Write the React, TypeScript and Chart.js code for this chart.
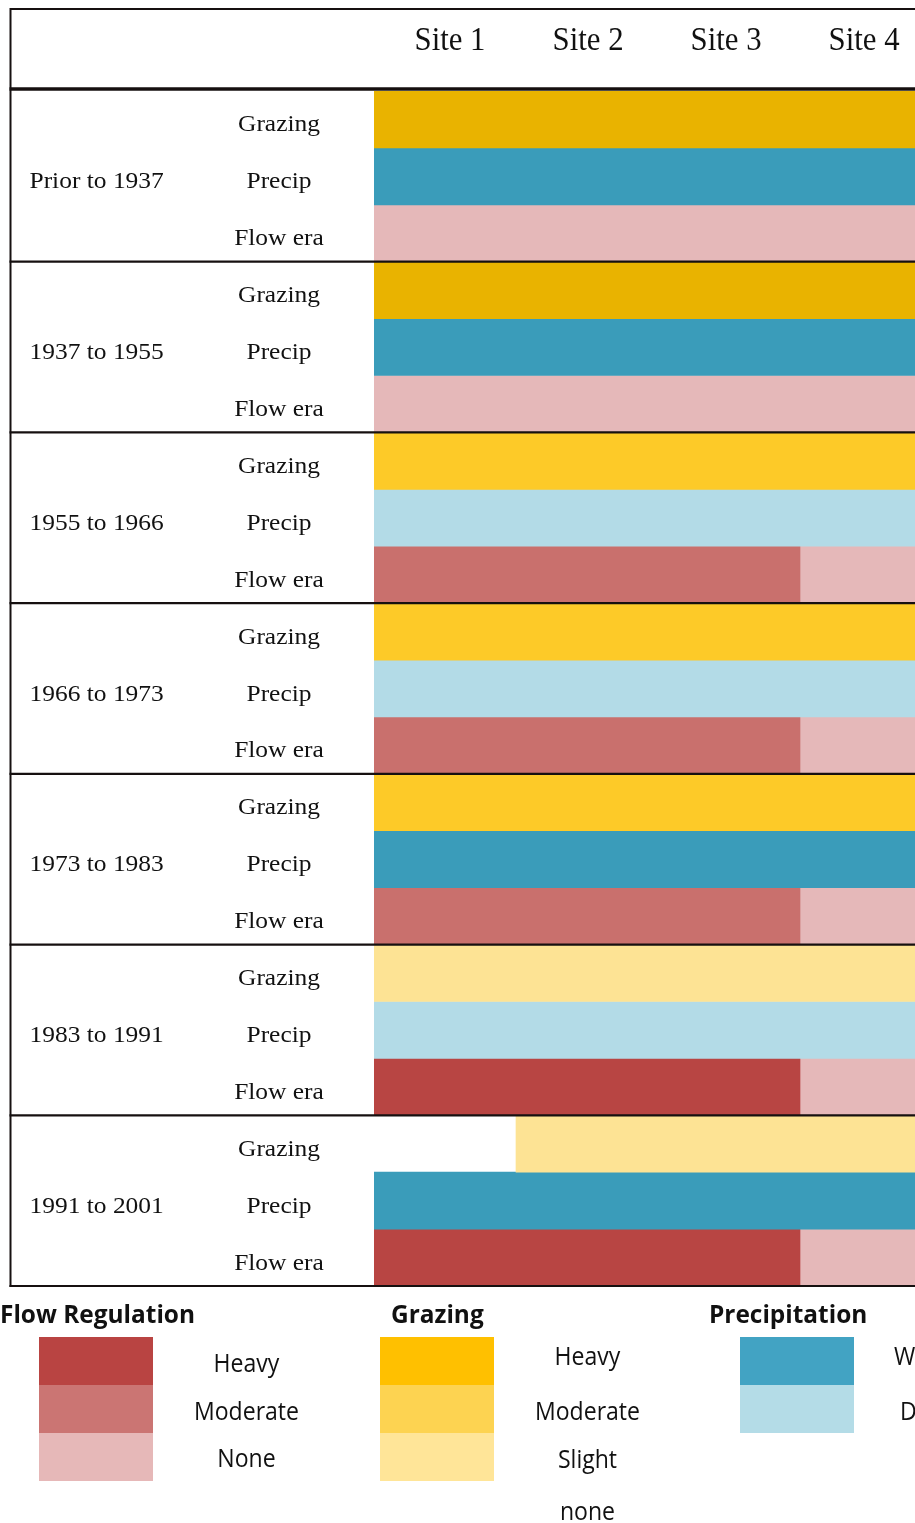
import React, { useEffect, useRef } from 'react';
import { Chart, registerables } from 'chart.js';

Chart.register(...registerables);

// ---------- data ----------
const SITES = ['Site 1', 'Site 2', 'Site 3', 'Site 4'];
const PERIODS = [
  'Prior to 1937',
  '1937 to 1955',
  '1955 to 1966',
  '1966 to 1973',
  '1973 to 1983',
  '1983 to 1991',
  '1991 to 2001',
];
const FACTORS = ['Grazing', 'Precip', 'Flow era'];

// level per period per site
const GRAZING = [
  ['Heavy', 'Heavy', 'Heavy', 'Heavy'],
  ['Heavy', 'Heavy', 'Heavy', 'Heavy'],
  ['Moderate', 'Moderate', 'Moderate', 'Moderate'],
  ['Moderate', 'Moderate', 'Moderate', 'Moderate'],
  ['Moderate', 'Moderate', 'Moderate', 'Moderate'],
  ['Slight', 'Slight', 'Slight', 'Slight'],
  ['none', 'Slight', 'Slight', 'Slight'],
];
const PRECIP = [
  ['Wet', 'Wet', 'Wet', 'Wet'],
  ['Wet', 'Wet', 'Wet', 'Wet'],
  ['Dry', 'Dry', 'Dry', 'Dry'],
  ['Dry', 'Dry', 'Dry', 'Dry'],
  ['Wet', 'Wet', 'Wet', 'Wet'],
  ['Dry', 'Dry', 'Dry', 'Dry'],
  ['Wet', 'Wet', 'Wet', 'Wet'],
];
const FLOW = [
  ['None', 'None', 'None', 'None'],
  ['None', 'None', 'None', 'None'],
  ['Moderate', 'Moderate', 'Moderate', 'None'],
  ['Moderate', 'Moderate', 'Moderate', 'None'],
  ['Moderate', 'Moderate', 'Moderate', 'None'],
  ['Heavy', 'Heavy', 'Heavy', 'None'],
  ['Heavy', 'Heavy', 'Heavy', 'None'],
];

const GRAZING_LEVELS = ['Heavy', 'Moderate', 'Slight'];
const PRECIP_LEVELS = ['Wet', 'Dry'];
const FLOW_LEVELS = ['Heavy', 'Moderate', 'None'];

const FLOW_LEGEND = ['Heavy', 'Moderate', 'None'];
const GRAZING_LEGEND = ['Heavy', 'Moderate', 'Slight', 'none'];
const PRECIP_LEGEND = ['Wet', 'Dry'];

// ---------- colours ----------
const BAR_COLORS: Record<string, Record<string, string>> = {
  Grazing: { Heavy: '#E9B300', Moderate: '#FDCA28', Slight: '#FDE394' },
  Precip: { Wet: '#3A9CBA', Dry: '#B3DBE7' },
  'Flow era': { Heavy: '#B84543', Moderate: '#C9706D', None: '#E5B8B9' },
};
const LEGEND_COLORS = {
  flow: ['#B94442', '#CB7573', '#E6B8B8'],
  grazing: ['#FFC000', '#FDD351', '#FFE598'],
  precip: ['#42A3C3', '#B4DCE7'],
};

const ROW_FACTORS = PERIODS.flatMap(() => FACTORS);
const ROW_LABELS = PERIODS.flatMap((p) => FACTORS.map((f) => `${p}|${f}`));
const TABLES: Record<string, string[][]> = { Grazing: GRAZING, Precip: PRECIP, 'Flow era': FLOW };
const LEVELS: Record<string, string[]> = { Grazing: GRAZING_LEVELS, Precip: PRECIP_LEVELS, 'Flow era': FLOW_LEVELS };

function runOf(levels: string[], level: string): [number, number] | null {
  let a = -1;
  let b = -1;
  levels.forEach((l, i) => {
    if (l === level) {
      if (a < 0) a = i;
      b = i;
    }
  });
  return a < 0 ? null : [a, b + 1];
}

function buildDatasets() {
  const ds: any[] = [];
  FACTORS.forEach((f) => {
    LEVELS[f].forEach((lvl) => {
      const data = ROW_LABELS.map((_, r) => {
        if (ROW_FACTORS[r] !== f) return null;
        const p = Math.floor(r / 3);
        return runOf(TABLES[f][p], lvl);
      });
      ds.push({
        label: `${f} ${lvl}`,
        data,
        backgroundColor: BAR_COLORS[f][lvl],
        borderWidth: 0,
        grouped: false,
        barPercentage: 1,
        categoryPercentage: 1,
      });
    });
  });
  return ds;
}

function drawScaled(ctx: CanvasRenderingContext2D, text: string, x: number, y: number, sx: number, align: CanvasTextAlign) {
  ctx.save();
  ctx.translate(x, y);
  ctx.scale(sx, 1);
  ctx.textAlign = align;
  ctx.fillText(text, 0, 0);
  ctx.restore();
}

const tablePlugin = {
  id: 'tableDecor',
  afterDatasetsDraw(chart: any) {
    const ctx: CanvasRenderingContext2D = chart.ctx;
    const area = chart.chartArea;
    const xs = chart.scales.x;
    const ys = chart.scales.y;
    const rowH = (area.bottom - area.top) / ROW_LABELS.length;
    const W = chart.width;
    ctx.save();
    ctx.textBaseline = 'alphabetic';
    ctx.fillStyle = '#111';

    // header site labels (header cells are slightly narrower than the data columns)
    ctx.font = '34px "Liberation Serif", serif';
    const sHead = 71 / ctx.measureText('Site 1').width;
    const colW = xs.getPixelForValue(1) - xs.getPixelForValue(0);
    SITES.forEach((s, i) => {
      const x = xs.getPixelForValue(0.5) + 5 + i * colW * 0.972;
      drawScaled(ctx, s, x, 50, sHead, 'center');
    });

    // body labels
    ctx.font = '23px "Liberation Serif", serif';
    const sBody = 65 / ctx.measureText('Precip').width;
    ROW_LABELS.forEach((_, r) => {
      const cy = ys.getPixelForValue(r);
      drawScaled(ctx, ROW_FACTORS[r], 279, cy + 12, sBody, 'center');
      if (r % 3 === 1) {
        drawScaled(ctx, PERIODS[Math.floor(r / 3)], 29.5, cy + 12, sBody, 'left');
      }
    });

    // lines
    ctx.strokeStyle = '#161010';
    ctx.lineWidth = 2;
    ctx.beginPath();
    ctx.moveTo(9.5, 9);
    ctx.lineTo(W, 9);
    ctx.moveTo(10.5, 8);
    ctx.lineTo(10.5, area.bottom + 1);
    ctx.stroke();
    ctx.lineWidth = 3.5;
    ctx.beginPath();
    ctx.moveTo(9.5, 89);
    ctx.lineTo(W, 89);
    ctx.stroke();
    ctx.lineWidth = 2.2;
    PERIODS.forEach((_, p) => {
      if (p === 0) return;
      const y = area.top + rowH * 3 * p;
      ctx.beginPath();
      ctx.moveTo(9.5, y);
      ctx.lineTo(W, y);
      ctx.stroke();
    });
    ctx.beginPath();
    ctx.moveTo(9.5, area.bottom);
    ctx.lineTo(W, area.bottom);
    ctx.stroke();

    // legend
    const sw = 114;
    const sh = 48;
    const top = 1337;
    ctx.font = 'bold 25px "Open Sans", sans-serif';
    const sTitle = 195 / ctx.measureText('Flow Regulation').width;
    drawScaled(ctx, 'Flow Regulation', 0, 1323, sTitle, 'left');
    drawScaled(ctx, 'Grazing', 391, 1323, sTitle, 'left');
    drawScaled(ctx, 'Precipitation', 709, 1323, sTitle, 'left');

    LEGEND_COLORS.flow.forEach((c, i) => {
      ctx.fillStyle = c;
      ctx.fillRect(39, top + i * sh, sw, sh);
    });
    LEGEND_COLORS.grazing.forEach((c, i) => {
      ctx.fillStyle = c;
      ctx.fillRect(380, top + i * sh, sw, sh);
    });
    LEGEND_COLORS.precip.forEach((c, i) => {
      ctx.fillStyle = c;
      ctx.fillRect(740, top + i * sh, sw, sh);
    });

    ctx.fillStyle = '#111';
    ctx.font = '25px "Open Sans", sans-serif';
    const sLeg = 105 / ctx.measureText('Moderate').width;
    const flowBase = [1372, 1420, 1467];
    FLOW_LEGEND.forEach((t, i) => drawScaled(ctx, t, 246.5, flowBase[i], sLeg, 'center'));
    const grzBase = [1365, 1420, 1468, 1520];
    GRAZING_LEGEND.forEach((t, i) => drawScaled(ctx, t, 587.5, grzBase[i], sLeg, 'center'));
    const preBase = [1365, 1420];
    const preX = [894, 900];
    PRECIP_LEGEND.forEach((t, i) => drawScaled(ctx, t, preX[i], preBase[i], sLeg, 'left'));

    ctx.restore();
  },
};

export default function App() {
  const ref = useRef<HTMLCanvasElement | null>(null);
  useEffect(() => {
    if (!ref.current) return;
    const chart = new Chart(ref.current, {
      type: 'bar',
      data: { labels: ROW_LABELS, datasets: buildDatasets() },
      options: {
        responsive: false,
        animation: false,
        indexAxis: 'y',
        layout: { padding: { left: 374, right: 18, top: 91, bottom: 237 } },
        plugins: { legend: { display: false }, tooltip: { enabled: false } },
        scales: {
          x: { type: 'linear', min: 0, max: 4, display: false },
          y: { type: 'category', display: false, offset: true, grid: { display: false } },
        },
      },
      plugins: [tablePlugin],
    } as any);
    return () => chart.destroy();
  }, []);
  return (
    <div
      style={{
        position: 'absolute',
        left: 0,
        top: 0,
        width: 915,
        height: 1523,
        overflow: 'hidden',
        background: '#fff',
      }}
    >
      <canvas ref={ref} width={960} height={1523} style={{ display: 'block', width: 960, height: 1523 }} />
    </div>
  );
}
